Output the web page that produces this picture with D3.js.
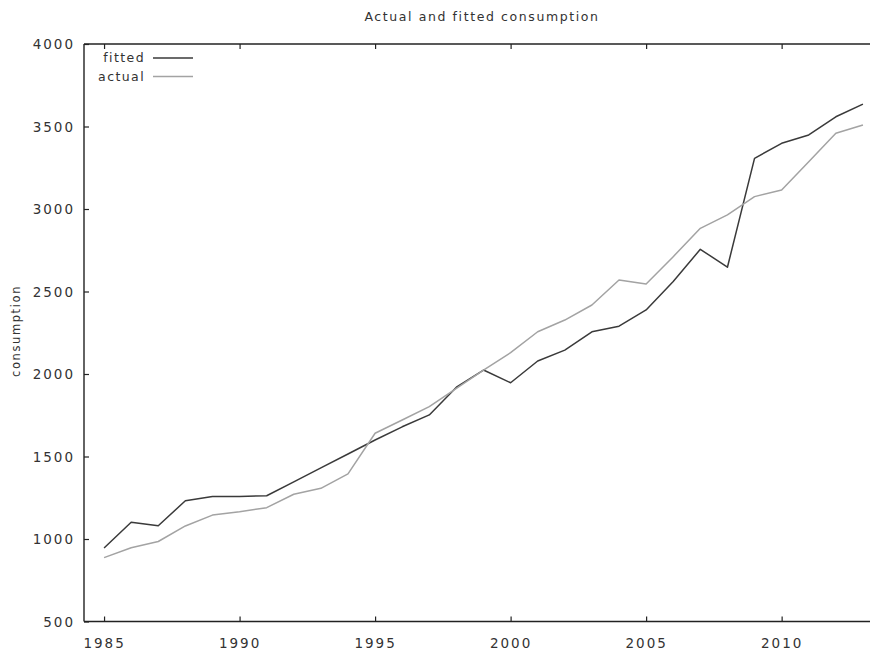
<!DOCTYPE html>
<html><head><meta charset="utf-8">
<script src="https://cdn.jsdelivr.net/npm/d3@7"></script>
<style>
body{margin:0;background:#fff;}
svg{display:block;}
text{font-family:"DejaVu Sans",Verdana,sans-serif;fill:#333;}
</style></head>
<body>
<svg id="c" width="870" height="650"></svg>
<script>
const years = [1985,1986,1987,1988,1989,1990,1991,1992,1993,1994,1995,1996,1997,1998,1999,2000,2001,2002,2003,2004,2005,2006,2007,2008,2009,2010,2011,2012,2013];
const fitted = [945,1102,1080,1232,1257,1258,1262,1346,1431,1515,1600,1680,1752,1920,2024,1947,2079,2145,2256,2290,2388,2560,2756,2647,3307,3398,3449,3559,3636];
const actual = [887,947,985,1079,1145,1165,1190,1271,1307,1395,1641,1721,1802,1913,2024,2129,2256,2327,2418,2570,2545,2711,2883,2964,3075,3115,3287,3459,3509];
const xTicks = [1985,1990,1995,2000,2005,2010];
const yTicks = [500,1000,1500,2000,2500,3000,3500,4000];
const seriesNames = ["fitted","actual"];
const seriesColors = ["#3a3a3a","#a3a3a3"];
const title = "Actual and fitted consumption";
const yLabel = "consumption";

const svg = d3.select("#c");
const L = 84, R = 883, T = 44, B = 621.5;
const x = d3.scaleLinear().domain([1984.26, 2013.74]).range([L, R]);
const y = d3.scaleLinear().domain([500, 4000]).range([B, T]);

// frame
const frame = svg.append("g").attr("stroke","#222").attr("stroke-width",1.4).attr("fill","none");
frame.append("line").attr("x1",L).attr("x2",L).attr("y1",T).attr("y2",B);
frame.append("line").attr("x1",L).attr("x2",R).attr("y1",T).attr("y2",T);
frame.append("line").attr("x1",L).attr("x2",R).attr("y1",B).attr("y2",B);

// axes
const yAxis = svg.append("g").attr("transform",`translate(${L},0)`)
  .call(d3.axisLeft(y).tickValues(yTicks).tickSize(-5).tickPadding(9).tickFormat(d3.format("d")));
const xAxis = svg.append("g").attr("transform",`translate(0,${B})`)
  .call(d3.axisBottom(x).tickValues(xTicks).tickSize(-5).tickPadding(17).tickFormat(d3.format("d")));
const xTop = svg.append("g").attr("transform",`translate(0,${T})`)
  .call(d3.axisTop(x).tickValues(xTicks).tickSize(-5).tickFormat(""));
[yAxis,xAxis,xTop].forEach(g=>{
  g.select(".domain").remove();
  g.selectAll(".tick line").attr("stroke","#222").attr("stroke-width",1.2);
  g.selectAll("text").attr("fill","#3a3a3a").attr("font-family","DejaVu Sans, sans-serif")
    .attr("font-size",13.5).style("letter-spacing","2px");
});
yAxis.selectAll("text").attr("dy","0.36em");

// lines
const data = [fitted, actual];
const line = d3.line().x((d,i)=>x(years[i])).y(d=>y(d));
data.forEach((s,k)=>{
  svg.append("path").datum(s).attr("d",line).attr("fill","none")
    .attr("stroke",seriesColors[k]).attr("stroke-width",1.5).attr("stroke-linejoin","round");
});

// legend
seriesNames.forEach((n,k)=>{
  const ly = 58 + k*18.5;
  svg.append("text").attr("x",145).attr("y",ly).attr("dy","0.33em").attr("text-anchor","end")
    .attr("font-size",12.5).style("letter-spacing","1.4px").text(n);
  svg.append("line").attr("x1",153).attr("x2",193).attr("y1",ly).attr("y2",ly)
    .attr("stroke",seriesColors[k]).attr("stroke-width",1.5);
});

// title
svg.append("text").attr("x",482).attr("y",21).attr("text-anchor","middle")
  .attr("font-size",12.5).style("letter-spacing","1.6px").text(title);

// y label
svg.append("text").attr("transform","translate(20,331) rotate(-90)").attr("text-anchor","middle")
  .attr("font-size",11.5).style("letter-spacing","1.6px").text(yLabel);
</script>
</body></html>
